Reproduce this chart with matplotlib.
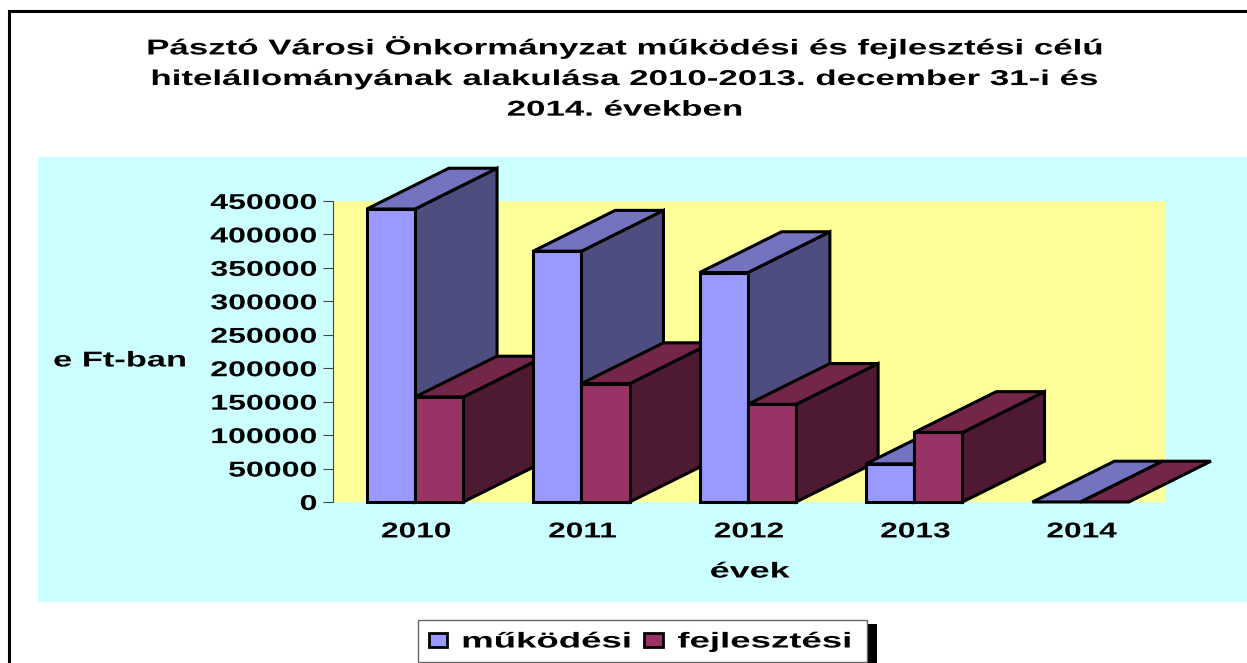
import matplotlib
matplotlib.use('Agg')
import matplotlib.pyplot as plt
import matplotlib.patheffects as pe
from matplotlib.patches import Polygon, Rectangle, Patch
from matplotlib.transforms import Affine2D

plt.rcParams['font.family'] = 'Liberation Sans'
plt.rcParams['font.weight'] = 'bold'

W, H = 1247, 663

years = ['2010', '2011', '2012', '2013', '2014']
mukodesi = [438000, 375000, 343000, 57000, 0]
fejlesztesi = [157000, 177000, 146000, 104000, 0]
yticks = list(range(0, 450001, 50000))

title = ('Pásztó Városi Önkormányzat működési és fejlesztési célú\n'
         'hitelállományának alakulása 2010-2013. december 31-i és\n'
         '2014. években')

# front, top, side
BLUE = ('#9999FF', '#7373BF', '#4D4D80')
MAROON = ('#993366', '#732649', '#4D1933')

BAR_W = 0.29
START = 0.203
DX = 0.493      # 3d depth in category units
DY = 61000      # 3d depth in value units


class StretchX(pe.AbstractPathEffect):
    # widens the glyphs of a text line, anchor 0 left, 0.5 centre, 1 right
    # the original text is wider than any installed font
    def __init__(self, sx, anchor=0.5):
        super().__init__()
        self.sx = sx
        self.anchor = anchor

    def draw_path(self, renderer, gc, tpath, affine, rgbFace=None):
        box = tpath.get_extents()
        cx = box.x0 + self.anchor * box.width
        wide = Affine2D().translate(-cx, 0).scale(self.sx, 1).translate(cx, 0) + affine
        renderer.draw_path(gc, tpath, wide, rgbFace)


def px(x0, y0, x1, y1):
    # pixel box to figure fraction
    return [x0 / W, 1 - y1 / H, (x1 - x0) / W, (y1 - y0) / H]


def fig_rect(fig, x0, y0, x1, y1, **kw):
    b = px(x0, y0, x1, y1)
    fig.add_artist(Rectangle((b[0], b[1]), b[2], b[3], transform=fig.transFigure, **kw))


def bar3d(ax, x, v, colors):
    common = dict(edgecolor='black', linewidth=2.2, joinstyle='miter', clip_on=False)
    # side, top, front
    if v > 0:
        ax.add_patch(Polygon([(x + BAR_W, 0), (x + BAR_W + DX, DY), (x + BAR_W + DX, v + DY), (x + BAR_W, v)],
                             facecolor=colors[2], **common))
    ax.add_patch(Polygon([(x, v), (x + DX, v + DY), (x + BAR_W + DX, v + DY), (x + BAR_W, v)],
                         facecolor=colors[1], **common))
    if v > 0:
        ax.add_patch(Rectangle((x, 0), BAR_W, v, facecolor=colors[0], **common))


fig = plt.figure(figsize=(W / 100, H / 100), dpi=100, facecolor='white')

# outer frame and cyan chart area
fig_rect(fig, 8.5, 11, 1300, 700, facecolor='white', edgecolor='black', linewidth=2.2, zorder=0.5)
fig_rect(fig, 38, 157, 1247, 602, facecolor='#CCFFFF', edgecolor='none', zorder=0.6)

ax = fig.add_axes(px(333, 201, 1165, 502), facecolor='#FFFF99')
ax.set_zorder(2)
ax.set_xlim(0, 5)
ax.set_ylim(0, 450000)

for i in range(len(years)):
    bar3d(ax, i + START, mukodesi[i], BLUE)
    bar3d(ax, i + START + BAR_W, fejlesztesi[i], MAROON)

ax.spines['top'].set_visible(False)
ax.spines['right'].set_visible(False)
ax.spines['left'].set_color('#444444')
ax.spines['bottom'].set_visible(False)
ax.set_yticks(yticks)
ax.set_yticklabels([str(t) for t in yticks], fontsize=15.5)
ax.tick_params(axis='y', length=7.2, width=0.8, color='#444444', pad=4.3)
ax.set_xticks([i + 0.5 for i in range(5)])
ax.set_xticklabels(years, fontsize=15.5)
ax.tick_params(axis='x', length=0, pad=14)
for t in ax.get_yticklabels():
    t.set_path_effects([StretchX(1.49, anchor=1)])
for t in ax.get_xticklabels():
    t.set_path_effects([StretchX(1.47)])

fig.text(625 / W, 1 - 78 / H, title, ha='center', va='center', fontsize=15.5, linespacing=1.6,
         path_effects=[StretchX(1.62)])
fig.text(120 / W, 1 - 361 / H, 'e Ft-ban', ha='center', va='center', fontsize=15.5, path_effects=[StretchX(1.6)])
fig.text(750 / W, 1 - 572 / H, 'évek', ha='center', va='center', fontsize=15.5, path_effects=[StretchX(1.67)])

# legend box with hard shadow, entries come from a real legend
fig_rect(fig, 428, 624, 877, 670, facecolor='black', edgecolor='none', zorder=4)
fig_rect(fig, 418, 619.5, 867, 661.5, facecolor='white', edgecolor='#666666', linewidth=1, zorder=4.1)
handles = [Patch(facecolor=BLUE[0], edgecolor='black', linewidth=2),
           Patch(facecolor=MAROON[0], edgecolor='black', linewidth=2)]
leg = fig.legend(handles, ['működési', 'fejlesztési'], ncol=2, loc='center left', bbox_to_anchor=(429 / W, 1 - 642 / H),
                 prop={'weight': 'bold', 'size': 15.5}, frameon=False, handlelength=0.84, handleheight=0.65,
                 handletextpad=0.7, columnspacing=3.8, borderpad=0, borderaxespad=0)
for t in leg.get_texts():
    t.set_path_effects([StretchX(1.7, anchor=0)])

fig.savefig('out.png', dpi=100)
